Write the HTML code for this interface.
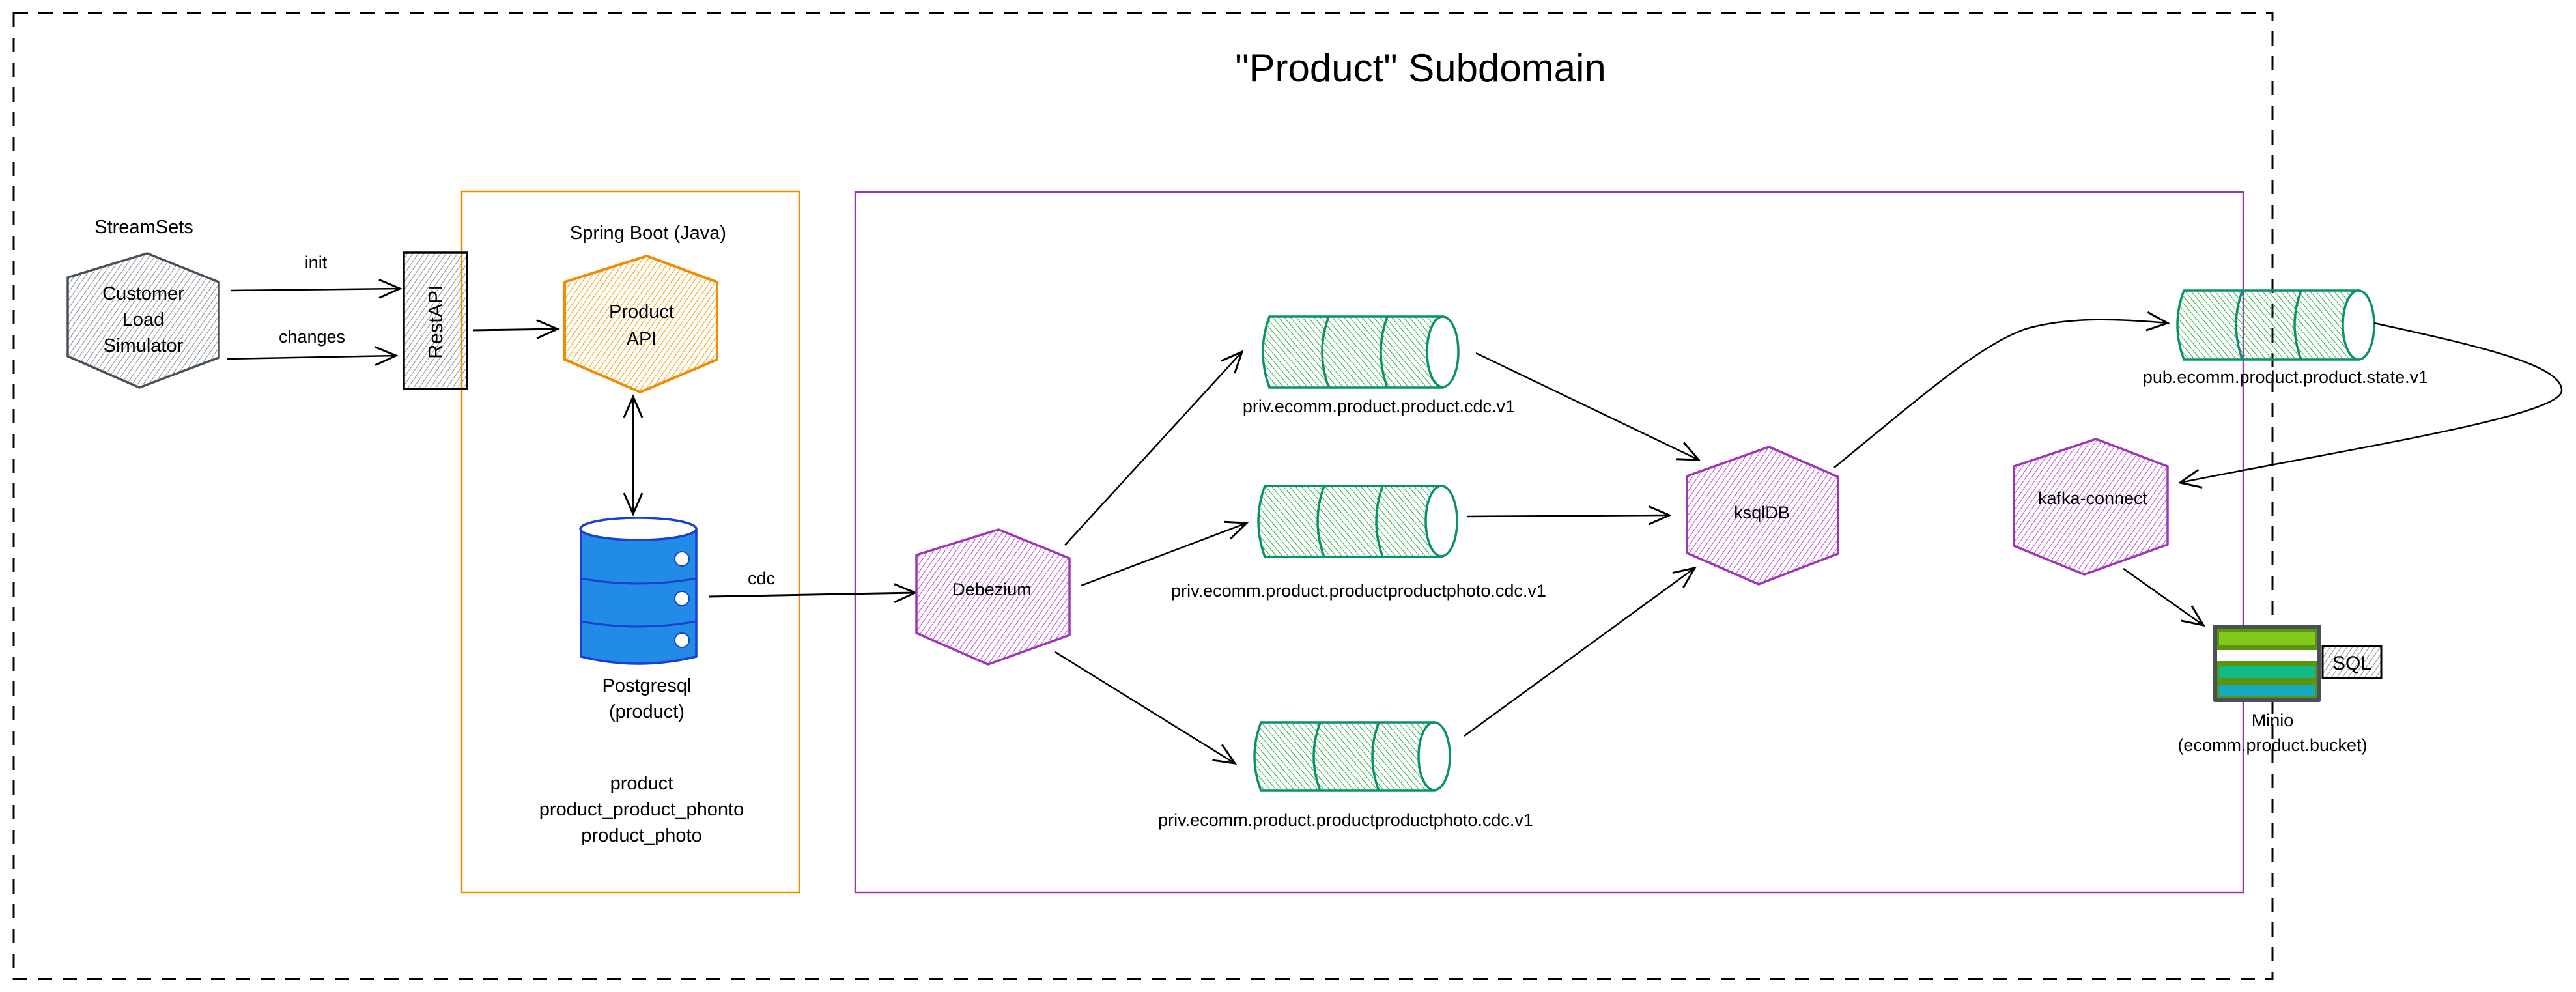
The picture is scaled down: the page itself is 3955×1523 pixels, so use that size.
<!DOCTYPE html>
<html><head><meta charset="utf-8"><style>
html,body{margin:0;padding:0;background:#fff;}
svg{display:block;}
text{font-family:"Liberation Sans",sans-serif;fill:#000;}
</style></head><body>
<svg width="3955" height="1523" viewBox="0 0 3955 1523" xmlns="http://www.w3.org/2000/svg">
<defs>
<pattern id="hg" patternUnits="userSpaceOnUse" width="7" height="7" patternTransform="rotate(35)"><line x1="0" y1="0" x2="0" y2="7" stroke="#868e96" stroke-width="2"/></pattern>
<pattern id="ho" patternUnits="userSpaceOnUse" width="7" height="7" patternTransform="rotate(35)"><line x1="0" y1="0" x2="0" y2="7" stroke="#f59f00" stroke-width="2"/></pattern>
<pattern id="hp" patternUnits="userSpaceOnUse" width="7" height="7" patternTransform="rotate(35)"><line x1="0" y1="0" x2="0" y2="7" stroke="#be4bdb" stroke-width="2"/></pattern>
<pattern id="hn" patternUnits="userSpaceOnUse" width="7" height="7" patternTransform="rotate(-40)"><line x1="0" y1="0" x2="0" y2="7" stroke="#2fb344" stroke-width="2"/></pattern>
<marker id="ar" markerUnits="userSpaceOnUse" markerWidth="40" markerHeight="40" refX="34" refY="20" orient="auto"><path d="M2,6 L34,20 L2,34" fill="none" stroke="#000" stroke-width="3"/></marker>
<marker id="as" markerUnits="userSpaceOnUse" markerWidth="40" markerHeight="40" refX="6" refY="20" orient="auto"><path d="M38,6 L6,20 L38,34" fill="none" stroke="#000" stroke-width="3"/></marker>
</defs>

<rect x="21" y="20" width="3468" height="1483" fill="none" stroke="#000" stroke-width="3" stroke-dasharray="22,16"/>
<text x="2181" y="125" font-size="60" text-anchor="middle">"Product" Subdomain</text>

<rect x="709" y="294" width="518" height="1076" fill="none" stroke="#f08c00" stroke-width="2.5"/>
<rect x="1313" y="295" width="2131" height="1075" fill="none" stroke="#9c36b5" stroke-width="2.5"/>

<text x="221" y="358" font-size="29" text-anchor="middle">StreamSets</text>
<polygon points="226,389 336,433 336,549 214,595 104,547 104,426" fill="url(#hg)" stroke="#495057" stroke-width="3.5"/>
<text font-size="29" text-anchor="middle"><tspan x="220" y="460">Customer</tspan><tspan x="220" y="500">Load</tspan><tspan x="220" y="540">Simulator</tspan></text>

<line x1="355" y1="446" x2="614" y2="443" stroke="#000" stroke-width="2.5" marker-end="url(#ar)"/>
<text x="485" y="412" font-size="27" text-anchor="middle">init</text>
<line x1="348" y1="551" x2="608" y2="546" stroke="#000" stroke-width="2.5" marker-end="url(#ar)"/>
<text x="479" y="526" font-size="27" text-anchor="middle">changes</text>

<rect x="620" y="388" width="97" height="209" fill="url(#hg)" stroke="#000" stroke-width="3.5"/>
<text x="0" y="0" font-size="31" text-anchor="middle" transform="translate(679,494) rotate(-90)">RestAPI</text>
<line x1="726" y1="507" x2="856" y2="505" stroke="#000" stroke-width="3" marker-end="url(#ar)"/>

<text x="995" y="367" font-size="29" text-anchor="middle">Spring Boot (Java)</text>
<polygon points="993,393 1101,433 1101,552 983,602 867,552 867,433" fill="url(#ho)" stroke="#f08c00" stroke-width="4"/>
<text font-size="29" text-anchor="middle"><tspan x="985" y="488">Product</tspan><tspan x="985" y="530">API</tspan></text>

<line x1="972" y1="609" x2="972" y2="789" stroke="#000" stroke-width="2.5" marker-start="url(#as)" marker-end="url(#ar)"/>

<path d="M892,812 L892,1008 Q980,1030 1069,1008 L1069,812 Z" fill="#228be6" stroke="#1c3fd1" stroke-width="3.5"/>
<ellipse cx="980" cy="812" rx="89" ry="17" fill="#fff" stroke="#1c3fd1" stroke-width="3.5"/>
<path d="M892,888 Q980,904 1069,888 M892,954 Q980,970 1069,954" fill="none" stroke="#1c3fd1" stroke-width="3"/>
<circle cx="1047" cy="858" r="11" fill="#fff" stroke="#1c3fd1" stroke-width="2"/>
<circle cx="1047" cy="919" r="11" fill="#fff" stroke="#1c3fd1" stroke-width="2"/>
<circle cx="1047" cy="983" r="11" fill="#fff" stroke="#1c3fd1" stroke-width="2"/>
<text font-size="29" text-anchor="middle"><tspan x="993" y="1062">Postgresql</tspan><tspan x="993" y="1102">(product)</tspan></text>
<text font-size="29" text-anchor="middle"><tspan x="985" y="1212">product</tspan><tspan x="985" y="1252">product_product_phonto</tspan><tspan x="985" y="1292">product_photo</tspan></text>

<line x1="1088" y1="916" x2="1405" y2="910" stroke="#000" stroke-width="3" marker-end="url(#ar)"/>
<text x="1169" y="897" font-size="27" text-anchor="middle">cdc</text>

<polygon points="1533,813 1642,857 1642,975 1517,1020 1407,972 1407,852" fill="url(#hp)" stroke="#9c36b5" stroke-width="3.5"/>
<text x="1523" y="914" font-size="27" text-anchor="middle">Debezium</text>

<g stroke="#099268" stroke-width="3.5">
<path d="M1949,486 L2215,486 L2215,595 L1949,595 Q1929,540 1949,486 Z" fill="url(#hn)"/>
<path d="M2040,486 Q2020,540 2040,595 M2130,486 Q2110,540 2130,595" fill="none"/>
<ellipse cx="2215" cy="540" rx="24" ry="54" fill="#fff"/>
<path d="M1942,746 L2213,746 L2213,855 L1942,855 Q1922,800 1942,746 Z" fill="url(#hn)"/>
<path d="M2033,746 Q2013,800 2033,855 M2123,746 Q2103,800 2123,855" fill="none"/>
<ellipse cx="2213" cy="800" rx="24" ry="54" fill="#fff"/>
<path d="M1936,1109 L2202,1109 L2202,1214 L1936,1214 Q1916,1161 1936,1109 Z" fill="url(#hn)"/>
<path d="M2027,1109 Q2007,1161 2027,1214 M2117,1109 Q2097,1161 2117,1214" fill="none"/>
<ellipse cx="2202" cy="1161" rx="24" ry="52" fill="#fff"/>
<path d="M3353,446 L3621,446 L3621,552 L3353,552 Q3333,499 3353,446 Z" fill="url(#hn)"/>
<path d="M3443,446 Q3423,499 3443,552 M3533,446 Q3513,499 3533,552" fill="none"/>
<ellipse cx="3621" cy="499" rx="24" ry="53" fill="#fff"/>
</g>
<text x="2117" y="633" font-size="27" text-anchor="middle">priv.ecomm.product.product.cdc.v1</text>
<text x="2086" y="916" font-size="27" text-anchor="middle">priv.ecomm.product.productproductphoto.cdc.v1</text>
<text x="2066" y="1268" font-size="27" text-anchor="middle">priv.ecomm.product.productproductphoto.cdc.v1</text>
<text x="3509" y="588" font-size="27" text-anchor="middle">pub.ecomm.product.product.state.v1</text>

<g stroke="#000" stroke-width="2.5" fill="none">
<line x1="1635" y1="837" x2="1907" y2="540" marker-end="url(#ar)"/>
<line x1="1660" y1="899" x2="1914" y2="803" marker-end="url(#ar)"/>
<line x1="1620" y1="1001" x2="1896" y2="1172" marker-end="url(#ar)"/>
<line x1="2266" y1="542" x2="2608" y2="706" marker-end="url(#ar)"/>
<line x1="2253" y1="793" x2="2563" y2="791" marker-end="url(#ar)"/>
<line x1="2248" y1="1130" x2="2602" y2="872" marker-end="url(#ar)"/>
<path d="M2816,718 C2960,600 3040,530 3110,505 C3180,485 3260,490 3328,496" marker-end="url(#ar)"/>
<path d="M3645,496 C3800,530 3935,560 3933,600 C3930,640 3600,690 3347,741" marker-end="url(#ar)"/>
<line x1="3260" y1="873" x2="3383" y2="960" marker-end="url(#ar)"/>
</g>

<polygon points="2716,686 2822,732 2822,850 2700,897 2590,849 2590,731" fill="url(#hp)" stroke="#9c36b5" stroke-width="3.5"/>
<text x="2705" y="796" font-size="27" text-anchor="middle">ksqlDB</text>

<polygon points="3218,674 3328,716 3328,836 3200,882 3092,838 3092,716" fill="url(#hp)" stroke="#9c36b5" stroke-width="3.5"/>
<text x="3213" y="774" font-size="27" text-anchor="middle">kafka-connect</text>

<rect x="3397" y="959" width="167" height="119" rx="4" fill="#495057"/>
<rect x="3404" y="966" width="153" height="105" fill="#5c940d"/>
<rect x="3407" y="970" width="147" height="20" fill="#82c91e"/>
<rect x="3404" y="998" width="153" height="17" fill="#fff"/>
<rect x="3407" y="1023" width="147" height="18" fill="#12b886"/>
<rect x="3407" y="1051" width="147" height="18" fill="#15aabf"/>
<rect x="3566" y="992" width="90" height="49" fill="url(#hg)" stroke="#000" stroke-width="3"/>
<text x="3611" y="1028" font-size="30" text-anchor="middle">SQL</text>
<text font-size="27" text-anchor="middle"><tspan x="3489" y="1115">Minio</tspan><tspan x="3489" y="1153">(ecomm.product.bucket)</tspan></text>
</svg>
</body></html>
